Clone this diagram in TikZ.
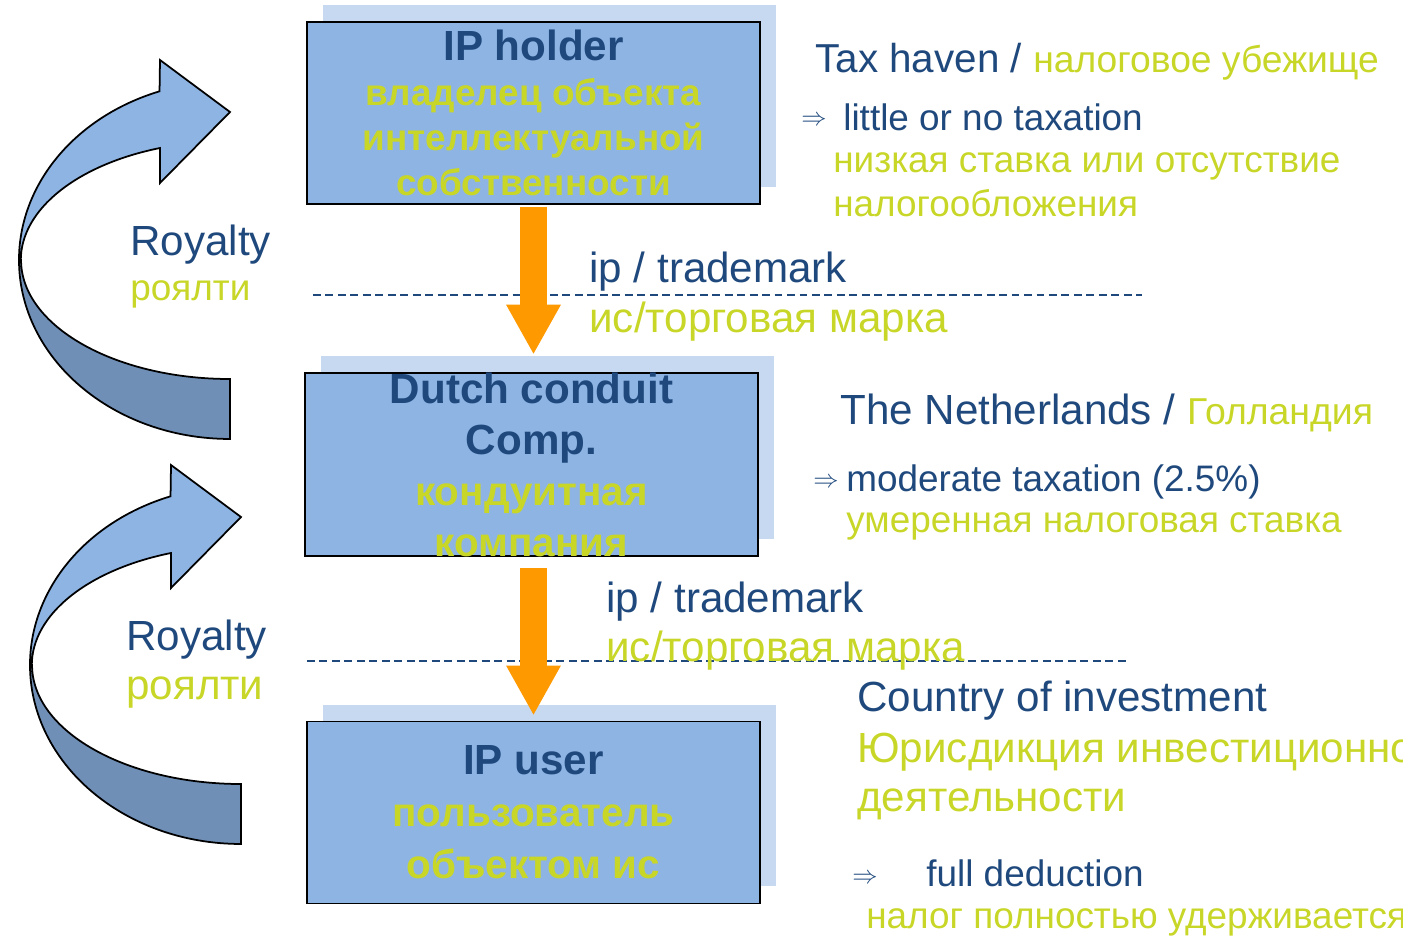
\documentclass[tikz,border=0pt]{standalone}
\usepackage{fontspec}
\setmainfont{Liberation Sans}
\usetikzlibrary{arrows.meta, shadows}

\definecolor{boxblue}{RGB}{142,180,227}
\definecolor{shadowblue}{RGB}{198,217,241}
\definecolor{dkblue}{RGB}{31,73,125}
\definecolor{ygreen}{RGB}{200,214,40}
\definecolor{arrowlight}{RGB}{142,180,227}
\definecolor{arrowdark}{RGB}{111,143,182}
\definecolor{flowor}{RGB}{255,153,0}

\newcommand{\fsz}[1]{\fontsize{#1}{#1}\selectfont}
\newcommand{\rusz}[2]{\color{ygreen}\fontsize{#1}{#2}\selectfont}

\begin{document}
\begin{tikzpicture}[x=0.02cm, y=-0.02cm,
    ipbox/.style={draw=black, line width=1.1pt, fill=boxblue, minimum width=9.06cm,
        minimum height=3.64cm, align=center, inner sep=0pt, text=dkblue,
        drop shadow={fill=shadowblue, opacity=1, shadow xshift=0.32cm, shadow yshift=0.34cm}},
    note/.style={anchor=base west, inner sep=0pt, text=dkblue},
    ru/.style={note, text=ygreen},
    impl/.style={inner sep=0pt, text=dkblue, font=\fsz{14}},
    flow/.style={draw=flowor, line width=0.54cm, -{Triangle[width=1.02cm, length=1cm]}},
    divider/.style={draw=dkblue, line width=1.1pt, dash pattern=on 4.5pt off 2.6pt},
    roybend/.style={draw=black, line width=1pt}]

    \clip (0,0) rectangle (1403,937);

    % Entities
    \node[ipbox, font=\bfseries\fontsize{24}{25.5}\selectfont] (holder) at (533.5,113)
        {IP holder\\ \rusz{21}{25.5}владелец объекта\\ \rusz{21}{25.5}интеллектуальной\\
         \rusz{21}{25.5}собственности};
    \node[ipbox, font=\bfseries\fontsize{24}{29}\selectfont] (conduit) at (531.5,464.5)
        {Dutch conduit\\ Comp.\\ \rusz{23}{29}кондуитная\\ \rusz{23}{29}компания};
    \node[ipbox, font=\bfseries\fontsize{24}{29.5}\selectfont] (user) at (533.5,812.5)
        {IP user\\ \rusz{23}{29.5}пользователь\\ \rusz{23}{29.5}объектом ис};

    % Borders
    \draw[divider] (313,295) -- (1142,295);
    \draw[divider] (307,661) -- (1128,661);

    % IP transfer
    \draw[flow, shorten <=0.04cm, shorten >=0.34cm] (holder.south) -- (holder.south |- conduit.north);
    \draw[flow, shorten <=0.22cm, shorten >=0.1cm] (holder.south |- conduit.south) -- (holder.south |- user.north);

    % Royalty flows
    \foreach \cx/\cy in {230/260, 241/665}{
        \begin{scope}[shift={(\cx,\cy)}]
            \filldraw[roybend, fill=arrowlight] (-211,0)
                arc[start angle=180, end angle=109.5, x radius=4.22cm, y radius=3.58cm]
                -- (-70,-200) -- (0,-148) -- (-70,-77) -- (-70,-112)
                arc[start angle=109.5, end angle=180, x radius=4.18cm, y radius=2.38cm] -- cycle;
            \filldraw[roybend, fill=arrowdark] (-211,0)
                arc[start angle=180, end angle=270, x radius=4.22cm, y radius=3.58cm]
                -- (0,119)
                arc[start angle=270, end angle=180, x radius=4.18cm, y radius=2.38cm] -- cycle;
        \end{scope}
    }

    % Labels
    \node[note, font=\fsz{24}] (roy1) at (130,255) {Royalty};
    \node[ru, font=\fsz{21}] (royru1) at (130,300) {роялти};
    \node[note, font=\fsz{24}] (roy2) at (126,650) {Royalty};
    \node[ru, font=\fsz{24}] (royru2) at (126,699) {роялти};

    \node[note, font=\fsz{24}] (ip1) at (589,282) {ip / trademark};
    \node[ru, font=\fsz{24}] (ipru1) at (589,332) {ис/торговая марка};
    \node[note, font=\fsz{24}] (ip2) at (606,612) {ip / trademark};
    \node[ru, font=\fsz{24}] (ipru2) at (606,661) {ис/торговая марка};

    % Jurisdictions
    \node[note, font=\fsz{23}] (haven) at (815,72) {Tax haven / {\color{ygreen}\fsz{21.2}налоговое убежище}};
    \node[impl] (imp1) at (814,121) {$\Rightarrow$};
    \node[note, font=\fsz{21}] (little) at (843,130) {little or no taxation};
    \node[ru, font=\fsz{21}] (lowrate) at (833,172) {низкая ставка или отсутствие};
    \node[ru, font=\fsz{21}] (lowrate2) at (833,216) {налогообложения};

    \node[note, font=\fsz{24}] (nl) at (840,424) {The Netherlands / {\color{ygreen}\fsz{21.3}Голландия}};
    \node[impl] (imp2) at (826,483) {$\Rightarrow$};
    \node[note, font=\fsz{21}] (moderate) at (846,491) {moderate taxation (2.5\%)};
    \node[ru, font=\fsz{21}] (modru) at (846,532) {умеренная налоговая ставка};

    \node[note, font=\fsz{24}] (country) at (857,711) {Country of investment};
    \node[ru, font=\fsz{24}] (juris) at (857,762) {Юрисдикция инвестиционной};
    \node[ru, font=\fsz{24}] (juris2) at (857,811) {деятельности};
    \node[impl] (imp3) at (865,879) {$\Rightarrow$};
    \node[note, font=\fsz{21}] (deduct) at (926,886) {full deduction};
    \node[ru, font=\fsz{21}] (deductru) at (866,928) {налог полностью удерживается};
\end{tikzpicture}
\end{document}
